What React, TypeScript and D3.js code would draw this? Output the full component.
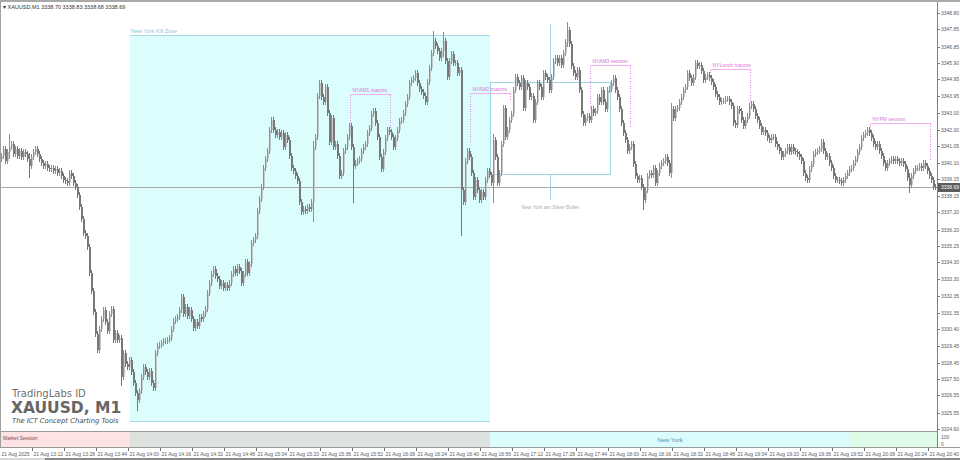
import * as d3 from "d3";
import { useEffect, useRef } from "react";

// last bar values shown in the chart header (open, high, low, close)
const symbol = "XAUUSD,M1";
const headerValues = ["3338.70", "3338.83", "3338.68", "3338.69"];
const lastPrice = 3338.69;

// M1 closes from 21 Aug 12:56 to 20:43
const firstOpen = 3340.3;
const closes = [
  3340.5, 3340.9, 3340.2, 3340.7, 3341.0, 3341.2, 3340.6, 3340.9, 3340.5, 3340.8,
  3340.4, 3340.7, 3340.6, 3340.3, 3339.9, 3340.4, 3340.7, 3340.9, 3340.6, 3340.3,
  3340.1, 3339.9, 3340.0, 3339.8, 3339.7, 3339.8, 3339.6, 3339.7, 3339.5, 3339.6,
  3339.3, 3339.1, 3339.0, 3338.9, 3339.5, 3339.3, 3338.9, 3338.7, 3338.2, 3337.5,
  3336.8, 3336.0, 3335.8, 3335.2, 3333.7, 3332.6, 3331.4, 3330.1, 3329.2, 3330.4,
  3331.0, 3331.5, 3330.8, 3330.3, 3331.3, 3331.6, 3329.8, 3330.2, 3329.8, 3329.9,
  3327.6, 3329.0, 3328.4, 3328.2, 3328.6, 3327.9, 3327.3, 3326.7, 3326.3, 3326.8,
  3327.6, 3328.2, 3327.9, 3327.6, 3328.0, 3327.3, 3327.0, 3329.0, 3329.4, 3329.5,
  3329.6, 3329.7, 3329.7, 3329.8, 3329.9, 3330.4, 3330.9, 3331.0, 3331.1, 3331.5,
  3332.3, 3331.3, 3331.7, 3331.2, 3331.5, 3331.0, 3330.5, 3330.8, 3330.6, 3331.1,
  3331.0, 3331.3, 3331.6, 3332.5, 3333.1, 3333.6, 3333.9, 3333.5, 3333.3, 3332.9,
  3333.1, 3332.8, 3333.0, 3332.8, 3333.1, 3333.6, 3333.9, 3333.7, 3334.0, 3333.8,
  3333.1, 3333.6, 3334.3, 3333.7, 3334.2, 3335.4, 3335.6, 3335.8, 3337.3, 3338.0,
  3338.7, 3339.8, 3340.3, 3340.8, 3342.0, 3342.6, 3342.0, 3341.7, 3341.9, 3341.6,
  3341.8, 3341.0, 3341.7, 3341.4, 3340.5, 3339.8, 3339.6, 3339.3, 3339.0, 3337.8,
  3337.2, 3337.4, 3337.3, 3337.5, 3337.4, 3337.8, 3341.0, 3341.6, 3344.0, 3344.7,
  3343.9, 3343.6, 3344.5, 3343.0, 3341.3, 3342.7, 3341.0, 3341.2, 3340.5, 3339.3,
  3339.5, 3340.8, 3341.0, 3341.6, 3342.2, 3341.0, 3339.9, 3340.1, 3340.2, 3340.3,
  3340.8, 3341.0, 3341.2, 3341.8, 3342.1, 3342.9, 3343.1, 3342.4, 3341.6, 3340.4,
  3339.7, 3340.7, 3341.5, 3342.0, 3341.9, 3341.6, 3341.0, 3341.5, 3342.0, 3342.5,
  3342.6, 3343.0, 3343.5, 3343.9, 3344.7, 3344.9, 3345.0, 3345.3, 3344.7, 3344.4,
  3344.2, 3344.0, 3343.6, 3344.8, 3345.6, 3346.5, 3347.2, 3346.9, 3346.6, 3346.2,
  3346.6, 3347.2, 3346.0, 3345.1, 3346.0, 3346.4, 3345.9, 3345.9, 3345.3, 3345.5,
  3338.5, 3337.8, 3340.2, 3340.8, 3340.4, 3339.5, 3338.1, 3339.1, 3338.5, 3337.9,
  3338.4, 3338.1, 3339.1, 3339.6, 3339.4, 3338.9, 3341.4, 3340.4, 3338.9, 3339.5,
  3341.2, 3343.3, 3341.6, 3342.0, 3342.6, 3342.9, 3344.3, 3345.1, 3344.7, 3344.5,
  3345.0, 3343.3, 3344.7, 3344.5, 3343.9, 3344.0, 3342.6, 3343.6, 3344.7, 3344.5,
  3343.9, 3345.3, 3345.1, 3344.9, 3344.3, 3345.1, 3346.0, 3346.2, 3345.9, 3346.2,
  3345.8, 3346.5, 3347.1, 3347.8, 3347.0, 3345.7, 3345.3, 3345.1, 3345.5, 3344.3,
  3342.9, 3342.4, 3342.7, 3342.8, 3342.6, 3343.2, 3343.0, 3343.1, 3343.9, 3343.6,
  3344.3, 3343.6, 3343.2, 3344.3, 3344.4, 3344.7, 3345.0, 3344.3, 3343.9, 3343.2,
  3342.4, 3341.8, 3341.4, 3340.8, 3341.0, 3341.2, 3340.0, 3339.3, 3339.1, 3339.2,
  3338.7, 3337.9, 3338.5, 3339.3, 3339.5, 3339.4, 3339.8, 3338.9, 3339.5, 3339.9,
  3340.1, 3340.2, 3340.4, 3340.1, 3339.5, 3343.2, 3342.7, 3343.2, 3343.3, 3343.6,
  3343.9, 3344.3, 3344.5, 3345.3, 3345.0, 3344.7, 3345.1, 3345.9, 3345.7, 3345.8,
  3345.4, 3344.9, 3345.1, 3345.2, 3345.0, 3344.8, 3344.5, 3344.1, 3343.9, 3343.6,
  3343.7, 3343.7, 3343.8, 3343.8, 3343.6, 3343.4, 3342.4, 3342.3, 3343.2, 3343.1,
  3342.6, 3342.2, 3342.6, 3342.8, 3343.4, 3343.5, 3343.2, 3342.8, 3342.6, 3342.2,
  3341.9, 3342.0, 3341.8, 3341.5, 3341.4, 3341.6, 3341.6, 3341.2, 3341.0, 3340.8,
  3340.4, 3340.6, 3340.8, 3341.0, 3340.7, 3341.0, 3340.8, 3340.7, 3340.6, 3340.4,
  3340.2, 3339.5, 3339.2, 3339.1, 3339.7, 3340.0, 3340.6, 3340.7, 3340.8, 3340.9,
  3341.3, 3340.8, 3340.4, 3340.5, 3340.1, 3339.8, 3339.3, 3339.1, 3339.1, 3339.0,
  3338.9, 3339.1, 3339.3, 3339.5, 3339.7, 3339.8, 3340.1, 3340.3, 3340.7, 3341.0,
  3341.5, 3341.7, 3341.8, 3342.0, 3341.8, 3341.5, 3341.2, 3341.0, 3341.2, 3340.8,
  3340.5, 3340.1, 3339.8, 3340.1, 3340.2, 3340.3, 3340.2, 3340.3, 3340.2, 3340.1,
  3340.2, 3340.0, 3339.7, 3339.2, 3338.8, 3339.3, 3339.6, 3339.8, 3339.8, 3339.9,
  3339.8, 3340.1, 3339.9, 3339.6, 3339.3, 3339.1, 3338.7, 3338.69,
];

// bars with visible long wicks: [bar index, high, low]
const wickSpikes = [
  [4, 3341.6, 3340.5],
  [14, 3340.5, 3339.4],
  [60, 3329.9, 3327.3],
  [68, 3326.7, 3325.8],
  [156, 3341.2, 3336.8],
  [176, 3341.0, 3337.9],
  [216, 3347.6, 3346.6],
  [221, 3347.5, 3346.4],
  [230, 3345.5, 3336.0],
  [246, 3341.6, 3337.9],
  [283, 3348.1, 3347.0],
  [321, 3338.7, 3337.5],
  [335, 3343.4, 3339.4],
  [454, 3339.3, 3338.5],
];

// right price scale, bottom to top
const priceTicks = [
  "3324.60", "3325.55", "3326.55", "3327.50", "3328.45", "3329.45", "3330.40",
  "3331.35", "3332.35", "3333.30", "3334.30", "3335.25", "3336.20", "3337.20",
  "3338.15", "3339.15", "3340.10", "3341.05", "3342.00", "3343.00", "3343.95",
  "3344.95", "3345.90", "3346.85", "3347.85", "3348.80",
];

// one label every 16 bars
const timeLabels = [
  "21 Aug 2025", "21 Aug 13:12", "21 Aug 13:28", "21 Aug 13:44", "21 Aug 14:00",
  "21 Aug 14:16", "21 Aug 14:32", "21 Aug 14:48", "21 Aug 15:04", "21 Aug 15:20",
  "21 Aug 15:36", "21 Aug 15:52", "21 Aug 16:08", "21 Aug 16:24", "21 Aug 16:40",
  "21 Aug 16:56", "21 Aug 17:12", "21 Aug 17:28", "21 Aug 17:44", "21 Aug 18:00",
  "21 Aug 18:16", "21 Aug 18:32", "21 Aug 18:48", "21 Aug 19:04", "21 Aug 19:20",
  "21 Aug 19:36", "21 Aug 19:52", "21 Aug 20:08", "21 Aug 20:24", "21 Aug 20:40",
];

// session strip (bar index ranges)
const sessions = [
  { name: "Market Session", from: 0, to: 64 },
  { name: "", from: 64, to: 244 },
  { name: "New York", from: 244, to: 424 },
  { name: "", from: 424, to: 468 },
];
const sessionFill = ["#fde3e3", "#dee2df", "#dafcfc", "#ddfbe7"];

const killZone = { name: "New York Kill Zone", from: 64, to: 244, high: 3347.52, low: 3325.06 };

const silverBullet = {
  name: "New York am Silver Bullet",
  from: 244, to: 304, mid: 274,
  high: 3344.79, low: 3339.44, lineTop: 3348.16, lineBottom: 3337.93,
};

const macros = [
  { name: "NYAM1 macros", from: 174, to: 194, top: 3344.09, left: 3342.17, right: 3342.0 },
  { name: "NYAM2 macros", from: 234, to: 254, top: 3344.15, left: 3341.24, right: 3343.74 },
  { name: "NYAM3 session", from: 294, to: 314, top: 3345.78, left: 3343.16, right: 3342.17 },
  { name: "NYLunch macros", from: 354, to: 374, top: 3345.55, left: 3345.3, right: 3343.57 },
  { name: "NYPM session", from: 434, to: 464, top: 3342.41, left: 3341.8, right: 3340.25 },
];

const App = () => {
  const ref = useRef<SVGSVGElement>(null);

  useEffect(() => {
    const svg = d3.select(ref.current);
    svg.selectAll("*").remove();

    const W = 960;
    const axisX = 937.5;
    const font = "'Liberation Sans', Arial, sans-serif";
    const N = closes.length;

    const x = d3.scaleBand<number>().domain(d3.range(N)).range([1, 937]);
    const bw = x.bandwidth();
    const cx = (i: number) => (i >= N ? 937 : (x(i) as number) + bw / 2);
    const y = d3
      .scaleLinear()
      .domain([+priceTicks[0], +priceTicks[priceTicks.length - 1]])
      .range([429, 13]);

    svg.append("rect").attr("width", W).attr("height", 460).attr("fill", "#fff");

    // kill zone
    const kz = svg.append("g");
    kz.append("rect")
      .attr("x", cx(killZone.from))
      .attr("y", y(killZone.high))
      .attr("width", cx(killZone.to) - cx(killZone.from))
      .attr("height", y(killZone.low) - y(killZone.high))
      .attr("fill", "#dcfdfd");
    [killZone.high, killZone.low].forEach((v) =>
      kz.append("line")
        .attr("x1", cx(killZone.from)).attr("x2", cx(killZone.to))
        .attr("y1", Math.round(y(v)) + 0.5).attr("y2", Math.round(y(v)) + 0.5)
        .attr("stroke", "#a9d9e6")
    );
    kz.append("text")
      .attr("x", cx(killZone.from) + 1)
      .attr("y", y(killZone.high) - 2.5)
      .attr("font-family", font).attr("font-size", 5.5)
      .attr("fill", "#8cc4da")
      .text(killZone.name);

    // watermark
    const wm = svg.append("g").attr("font-family", "'DejaVu Sans', sans-serif");
    wm.append("text").attr("x", 12).attr("y", 397).attr("font-size", 10).attr("fill", "#6e6e6e").text("TradingLabs ID");
    wm.append("text").attr("x", 11).attr("y", 412.5).attr("font-size", 15.5).attr("font-weight", "bold").attr("fill", "#666").text("XAUUSD, M1");
    wm.append("text").attr("x", 12).attr("y", 423).attr("font-size", 6.8).attr("font-style", "italic").attr("fill", "#4a4a4a").text("The ICT Concept Charting Tools");

    // current price line
    const py = Math.round(y(lastPrice)) + 0.5;
    svg.append("line").attr("x1", 0).attr("x2", axisX).attr("y1", py).attr("y2", py).attr("stroke", "#a6a6a6");

    // silver bullet box
    const sb = svg.append("g").attr("stroke", "#9fd2e2").attr("fill", "none").attr("shape-rendering", "crispEdges");
    sb.append("rect")
      .attr("x", cx(silverBullet.from) + 0.5)
      .attr("y", Math.round(y(silverBullet.high)) + 0.5)
      .attr("width", cx(silverBullet.to) - cx(silverBullet.from))
      .attr("height", Math.round(y(silverBullet.low) - y(silverBullet.high)));
    sb.append("line")
      .attr("x1", cx(silverBullet.mid) + 0.5).attr("x2", cx(silverBullet.mid) + 0.5)
      .attr("y1", y(silverBullet.lineTop)).attr("y2", y(silverBullet.high));
    sb.append("line")
      .attr("x1", cx(silverBullet.mid) + 0.5).attr("x2", cx(silverBullet.mid) + 0.5)
      .attr("y1", y(silverBullet.low)).attr("y2", y(silverBullet.lineBottom));
    svg.append("text")
      .attr("x", cx(silverBullet.mid)).attr("y", y(silverBullet.lineBottom) + 9.5)
      .attr("text-anchor", "middle")
      .attr("font-family", font).attr("font-size", 5)
      .attr("fill", "#ababab")
      .text(silverBullet.name);

    // macros
    const mg = svg.append("g").attr("shape-rendering", "crispEdges");
    macros.forEach((m) => {
      const x0 = cx(m.from) + 0.5;
      const x1 = cx(m.to) + 0.5;
      const yt = Math.round(y(m.top)) + 0.5;
      mg.append("line").attr("x1", x0).attr("x2", x1).attr("y1", yt).attr("y2", yt).attr("stroke", "#f2aef2");
      mg.append("line").attr("x1", x0).attr("x2", x0).attr("y1", yt).attr("y2", y(m.left))
        .attr("stroke", "#e58ae5").attr("stroke-dasharray", "1,1.5");
      mg.append("line").attr("x1", x1).attr("x2", x1).attr("y1", yt).attr("y2", y(m.right))
        .attr("stroke", "#e58ae5").attr("stroke-dasharray", "1,1.5");
      mg.append("text").attr("x", x0 + 2).attr("y", yt - 2.5)
        .attr("font-family", font).attr("font-size", 5)
        .attr("fill", "#d872d8")
        .text(m.name);
    });

    // candles
    const spikes = new Map(wickSpikes.map((s) => [s[0], s]));
    const bars = closes.map((c, i) => {
      const o = i === 0 ? firstOpen : closes[i - 1];
      const s = spikes.get(i);
      return {
        i, o, c,
        h: s ? Math.max(s[1], o, c) : Math.max(o, c),
        l: s ? Math.min(s[2], o, c) : Math.min(o, c),
      };
    });
    const cg = svg.append("g").attr("shape-rendering", "crispEdges");
    cg.selectAll("rect.body")
      .data(bars)
      .join("rect")
      .attr("class", "body")
      .attr("x", (d) => x(d.i) as number)
      .attr("y", (d) => y(Math.max(d.o, d.c)))
      .attr("width", bw)
      .attr("height", (d) => Math.max(1, Math.abs(y(d.c) - y(d.o))))
      .attr("fill", (d) => (d.c < d.o ? "#787878" : "#c9c9c9"));
    cg.selectAll("line")
      .data(bars)
      .join("line")
      .attr("x1", (d) => (x(d.i) as number) + 0.5)
      .attr("x2", (d) => (x(d.i) as number) + 0.5)
      .attr("y1", (d) => y(d.h) - 3)
      .attr("y2", (d) => y(d.l) + 3)
      .attr("stroke", (d) => (d.c < d.o ? "#787878" : "#8e8e8e"));

    // session strip
    const ss = svg.append("g").attr("shape-rendering", "crispEdges");
    sessions.forEach((s, k) => {
      ss.append("rect")
        .attr("x", s.from === 0 ? 0 : cx(s.from))
        .attr("y", 432)
        .attr("width", cx(s.to) - (s.from === 0 ? 0 : cx(s.from)))
        .attr("height", 15)
        .attr("fill", sessionFill[k]);
    });
    ss.append("text").attr("x", 3).attr("y", 439.5)
      .attr("font-family", font).attr("font-size", 5).attr("fill", "#7a4848")
      .text(sessions[0].name);
    ss.append("text").attr("x", (cx(sessions[2].from) + cx(sessions[2].to)) / 2).attr("y", 442)
      .attr("text-anchor", "middle")
      .attr("font-family", font).attr("font-size", 6).attr("fill", "#4f90a8")
      .text(sessions[2].name);

    // frame
    const fr = svg.append("g").attr("shape-rendering", "crispEdges");
    fr.append("rect").attr("x", 0).attr("y", 0).attr("width", W).attr("height", 2).attr("fill", "#a9a9a9");
    fr.append("line").attr("x1", 0.5).attr("x2", 0.5).attr("y1", 2).attr("y2", 448).attr("stroke", "#a0a0a0");
    fr.append("rect").attr("x", 0).attr("y", 430.5).attr("width", axisX).attr("height", 1.5).attr("fill", "#9a9a9a");
    fr.append("line").attr("x1", 0).attr("x2", W).attr("y1", 447.5).attr("y2", 447.5).attr("stroke", "#9a9a9a");
    fr.append("line").attr("x1", axisX).attr("x2", axisX).attr("y1", 2).attr("y2", 448).attr("stroke", "#808080");
    fr.append("rect").attr("x", 0).attr("y", 458).attr("width", W).attr("height", 2).attr("fill", "#8a8a8a");
    fr.append("rect").attr("x", 0).attr("y", 458).attr("width", 45).attr("height", 2).attr("fill", "#d8d8d8");

    // price axis
    const pa = svg.append("g").attr("font-family", font).attr("font-size", 5).attr("fill", "#5a5a5a");
    priceTicks.forEach((t) => {
      const ty = Math.round(y(+t)) + 0.5;
      pa.append("line").attr("x1", axisX).attr("x2", axisX + 2.5).attr("y1", ty).attr("y2", ty)
        .attr("stroke", "#808080").attr("shape-rendering", "crispEdges");
      pa.append("text").attr("x", 941).attr("y", ty).attr("dy", "0.35em").text(t);
    });
    pa.append("text").attr("x", 941).attr("y", 437).attr("dy", "0.35em").text("100");
    pa.append("text").attr("x", 941).attr("y", 444).attr("dy", "0.35em").text("0");
    pa.append("rect").attr("x", axisX + 0.5).attr("y", py - 4.5).attr("width", W - axisX).attr("height", 9).attr("fill", "#5c5c5c");
    pa.append("text").attr("x", 941).attr("y", py).attr("dy", "0.35em").attr("fill", "#fff").text(lastPrice.toFixed(2));

    // time axis
    const ta = svg.append("g").attr("font-family", font).attr("font-size", 5).attr("fill", "#5a5a5a");
    timeLabels.forEach((t, k) => {
      const tx = (x(k * 16) as number) - 0.5;
      if (k > 0) {
        ta.append("line").attr("x1", tx).attr("x2", tx).attr("y1", 448).attr("y2", 451)
          .attr("stroke", "#707070").attr("shape-rendering", "crispEdges");
      }
      ta.append("text").attr("x", tx + 1).attr("y", 455.5).text(t);
    });

    // header
    svg.append("text")
      .attr("x", 3).attr("y", 8.5)
      .attr("font-family", font).attr("font-size", 5.5).attr("fill", "#333")
      .text(`▾ ${symbol}  ${headerValues.join(" ")}`);
  }, []);

  return (
    <svg
      ref={ref}
      width={960}
      height={460}
      style={{ position: "absolute", left: 0, top: 0, display: "block" }}
    />
  );
};

export default App;
